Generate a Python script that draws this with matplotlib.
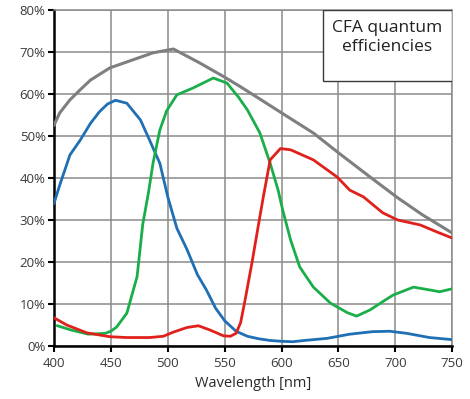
"""CFA quantum efficiencies of a colour sensor (R, G, B channels plus mono)."""

import matplotlib
matplotlib.use("Agg")
import matplotlib.pyplot as plt
from matplotlib.patches import Rectangle
from matplotlib.ticker import FuncFormatter, MultipleLocator

plt.rcParams["font.family"] = ["Open Sans", "DejaVu Sans"]

# ── Data (wavelength nm, QE %) ───────────────────────────────────────────────
mono_nm = [400, 405, 414, 423, 432, 449, 469, 487, 505, 528, 550, 564, 578,
           600, 628, 650, 678, 702, 724, 750]
mono_qe = [52.6, 55.5, 58.6, 61.0, 63.3, 66.2, 68.1, 69.8, 70.7, 67.4, 64.0,
           61.7, 59.3, 55.5, 50.7, 46.0, 40.2, 35.3, 31.2, 26.9]

blue_nm = [400, 405, 414, 423, 432, 440, 447, 454, 464, 476, 484, 493, 500,
           508, 517, 526, 534, 542, 550, 560, 570, 580, 590, 600, 610, 620,
           640, 660, 680, 695, 710, 730, 750]
blue_qe = [34.0, 38.3, 45.5, 49.0, 53.0, 55.8, 57.6, 58.5, 57.8, 53.8, 49.0,
           43.5, 35.5, 28.0, 22.9, 17.0, 13.3, 9.0, 6.0, 3.5, 2.3, 1.7, 1.3,
           1.1, 1.0, 1.3, 1.8, 2.8, 3.4, 3.5, 3.0, 2.0, 1.5]

green_nm = [403, 415, 430, 445, 450, 455, 464, 473, 478, 483, 487, 493, 499,
            508, 522, 540, 552, 562, 570, 581, 590, 597, 601, 608, 616, 628,
            643, 658, 666, 678, 687, 698, 716, 731, 739, 750]
green_qe = [4.8, 3.8, 2.8, 3.0, 3.5, 4.5, 7.8, 16.5, 29.0, 36.5, 43.5, 51.4,
            56.0, 59.8, 61.4, 63.8, 62.6, 59.3, 56.2, 50.7, 43.5, 37.1, 32.4,
            25.2, 18.8, 14.0, 10.2, 7.9, 7.1, 8.6, 10.2, 12.1, 14.0, 13.3,
            12.9, 13.6]

red_nm = [400, 411, 429, 449, 464, 484, 496, 505, 517, 527, 537, 549, 555,
          560, 564, 568, 574, 580, 584, 590, 599, 608, 628, 649, 660, 672,
          689, 702, 722, 737, 750]
red_qe = [6.7, 5.0, 3.1, 2.2, 2.0, 2.0, 2.3, 3.3, 4.4, 4.8, 3.8, 2.4, 2.3,
          3.0, 5.5, 11.0, 19.8, 29.3, 35.5, 44.3, 47.0, 46.7, 44.3, 40.2,
          37.1, 35.5, 31.7, 30.0, 28.8, 27.1, 25.7]

x_ticks = [400, 450, 500, 550, 600, 650, 700, 750]
title_lines = "CFA quantum\nefficiencies"
xlabel = "Wavelength [nm]"

# ── Figure ───────────────────────────────────────────────────────────────────
fig = plt.figure(figsize=(4.70, 3.99), dpi=100)
ax = fig.add_axes([0.115, 0.133, 0.847, 0.842])

grid_col = "#8a8a8a"
ax.set_axisbelow(True)
ax.grid(True, color=grid_col, linewidth=1.1)

lw = 2.0
ax.plot(mono_nm, mono_qe, color="#7f7f7f", lw=2.2, zorder=3)
ax.plot(blue_nm, blue_qe, color="#1f6fb5", lw=lw, zorder=4)
ax.plot(green_nm, green_qe, color="#1aae4a", lw=lw, zorder=4)
ax.plot(red_nm, red_qe, color="#e0201b", lw=lw, zorder=5)

ax.set_xlim(400, 750)
ax.set_ylim(0, 80)
ax.set_xticks(x_ticks)
ax.yaxis.set_major_locator(MultipleLocator(10))
ax.yaxis.set_major_formatter(FuncFormatter(lambda v, _: f"{v:.0f}%"))

for side in ("top", "right"):
    ax.spines[side].set_color(grid_col)
    ax.spines[side].set_linewidth(1.1)
for side in ("left", "bottom"):
    ax.spines[side].set_color("black")
    ax.spines[side].set_linewidth(1.8)

ax.tick_params(axis="both", direction="out", length=4, width=1.5,
               color="black", labelsize=9.5, labelcolor="#3a3a3a")
ax.tick_params(axis="y", pad=2)
ax.tick_params(axis="x", pad=4)
ax.set_xlabel(xlabel, fontsize=10.5, color="#2a2a2a", labelpad=4)

# title box in the upper-right corner
box = Rectangle((0.675, 0.790), 0.325, 0.210, transform=ax.transAxes,
                facecolor="white", edgecolor="#3a3a3a", linewidth=1.0,
                zorder=6)
ax.add_patch(box)
ax.text(0.8375, 0.918, title_lines, transform=ax.transAxes, ha="center",
        va="center", fontsize=12.5, color="#222222", linespacing=1.3,
        zorder=7)

fig.savefig("out.png", dpi=100)
